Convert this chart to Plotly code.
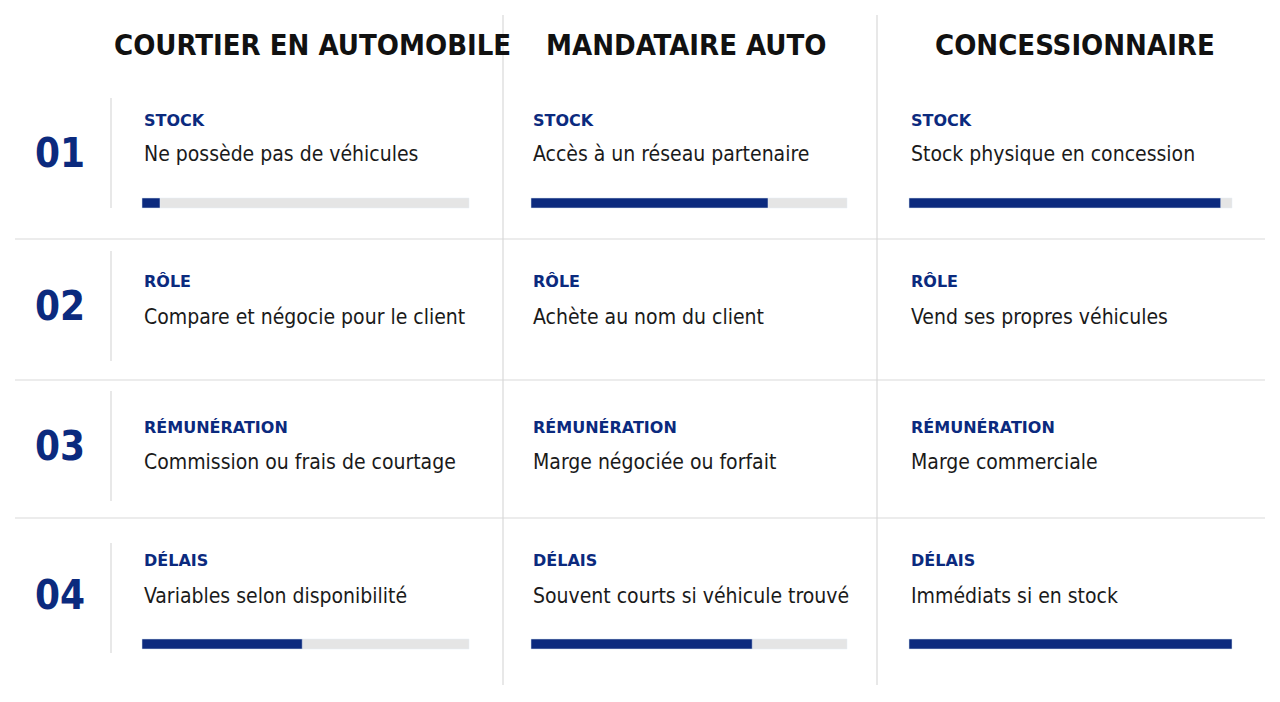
import plotly.graph_objects as go

headers = ["COURTIER EN AUTOMOBILE", "MANDATAIRE AUTO", "CONCESSIONNAIRE"]
row_numbers = ["01", "02", "03", "04"]
row_labels = ["STOCK", "RÔLE", "RÉMUNÉRATION", "DÉLAIS"]
cell_texts = [
    ["Ne possède pas de véhicules", "Accès à un réseau partenaire", "Stock physique en concession"],
    ["Compare et négocie pour le client", "Achète au nom du client", "Vend ses propres véhicules"],
    ["Commission ou frais de courtage", "Marge négociée ou forfait", "Marge commerciale"],
    ["Variables selon disponibilité", "Souvent courts si véhicule trouvé", "Immédiats si en stock"],
]
# bar scores (share of track), only rows 1 and 4 have bars
stock_scores = [0.055, 0.75, 0.965]
delay_scores = [0.49, 0.70, 1.0]

NAVY = "#0b2a7e"
GREY = "#e5e5e5"
LINE = "#d9d9d9"
FONT = "DejaVu Sans Condensed, sans-serif"

col_x = [142, 531, 909]
col_w = [327, 316, 323]
row_label_y = [120, 281, 427, 560]
row_text_y = [154, 317, 462, 596]
row_num_y = [153, 306, 446, 595]
bar_y = {0: 203, 3: 644}

fig = go.Figure()

for r, scores in ((0, stock_scores), (3, delay_scores)):
    fig.add_trace(go.Bar(orientation="h", y=[bar_y[r]] * 3, x=col_w, base=col_x,
                         width=10, marker_color=GREY, hoverinfo="skip", showlegend=False))
    fig.add_trace(go.Bar(orientation="h", y=[bar_y[r]] * 3,
                         x=[s * w for s, w in zip(scores, col_w)], base=col_x,
                         width=10, marker_color=NAVY, hoverinfo="skip", showlegend=False))

shapes = []
for yv in (239, 380, 518):
    shapes.append(dict(type="line", x0=15, x1=1265, y0=yv, y1=yv, line=dict(color=LINE, width=1.2)))
for xv in (503, 877):
    shapes.append(dict(type="line", x0=xv, x1=xv, y0=15, y1=685, line=dict(color=LINE, width=1.2)))
for yc in (153, 306, 446, 598):
    shapes.append(dict(type="line", x0=111, x1=111, y0=yc - 55, y1=yc + 55, line=dict(color=LINE, width=1.2)))
for s in shapes:
    s.update(xref="x", yref="y", layer="below")

ann = []
hx = [312, 686, 1075]
for h, x in zip(headers, hx):
    ann.append(dict(x=x, y=45, text=f"<b>{h}</b>", font=dict(family=FONT, size=29, color="#111111")))
for n, y in zip(row_numbers, row_num_y):
    ann.append(dict(x=60, y=y, text=f"<b>{n}</b>", font=dict(family=FONT, size=40, color=NAVY)))
for r in range(4):
    for c in range(3):
        ann.append(dict(x=col_x[c], y=row_label_y[r], xanchor="left",
                        text=f"<b>{row_labels[r]}</b>",
                        font=dict(family="DejaVu Sans, sans-serif", size=16, color=NAVY)))
        ann.append(dict(x=col_x[c], y=row_text_y[r], xanchor="left", text=cell_texts[r][c],
                        font=dict(family=FONT, size=21, color="#1a1a1a")))
for a in ann:
    a.update(xref="x", yref="y", showarrow=False, yanchor="middle")
    a.setdefault("xanchor", "center")

fig.update_layout(
    width=1280, height=702, margin=dict(l=0, r=0, t=0, b=0),
    paper_bgcolor="white", plot_bgcolor="white", barmode="overlay",
    xaxis=dict(range=[8, 1288], visible=False, fixedrange=True),
    yaxis=dict(range=[710, 8], visible=False, fixedrange=True),
    shapes=shapes, annotations=ann,
)
fig.write_html("out.html")
